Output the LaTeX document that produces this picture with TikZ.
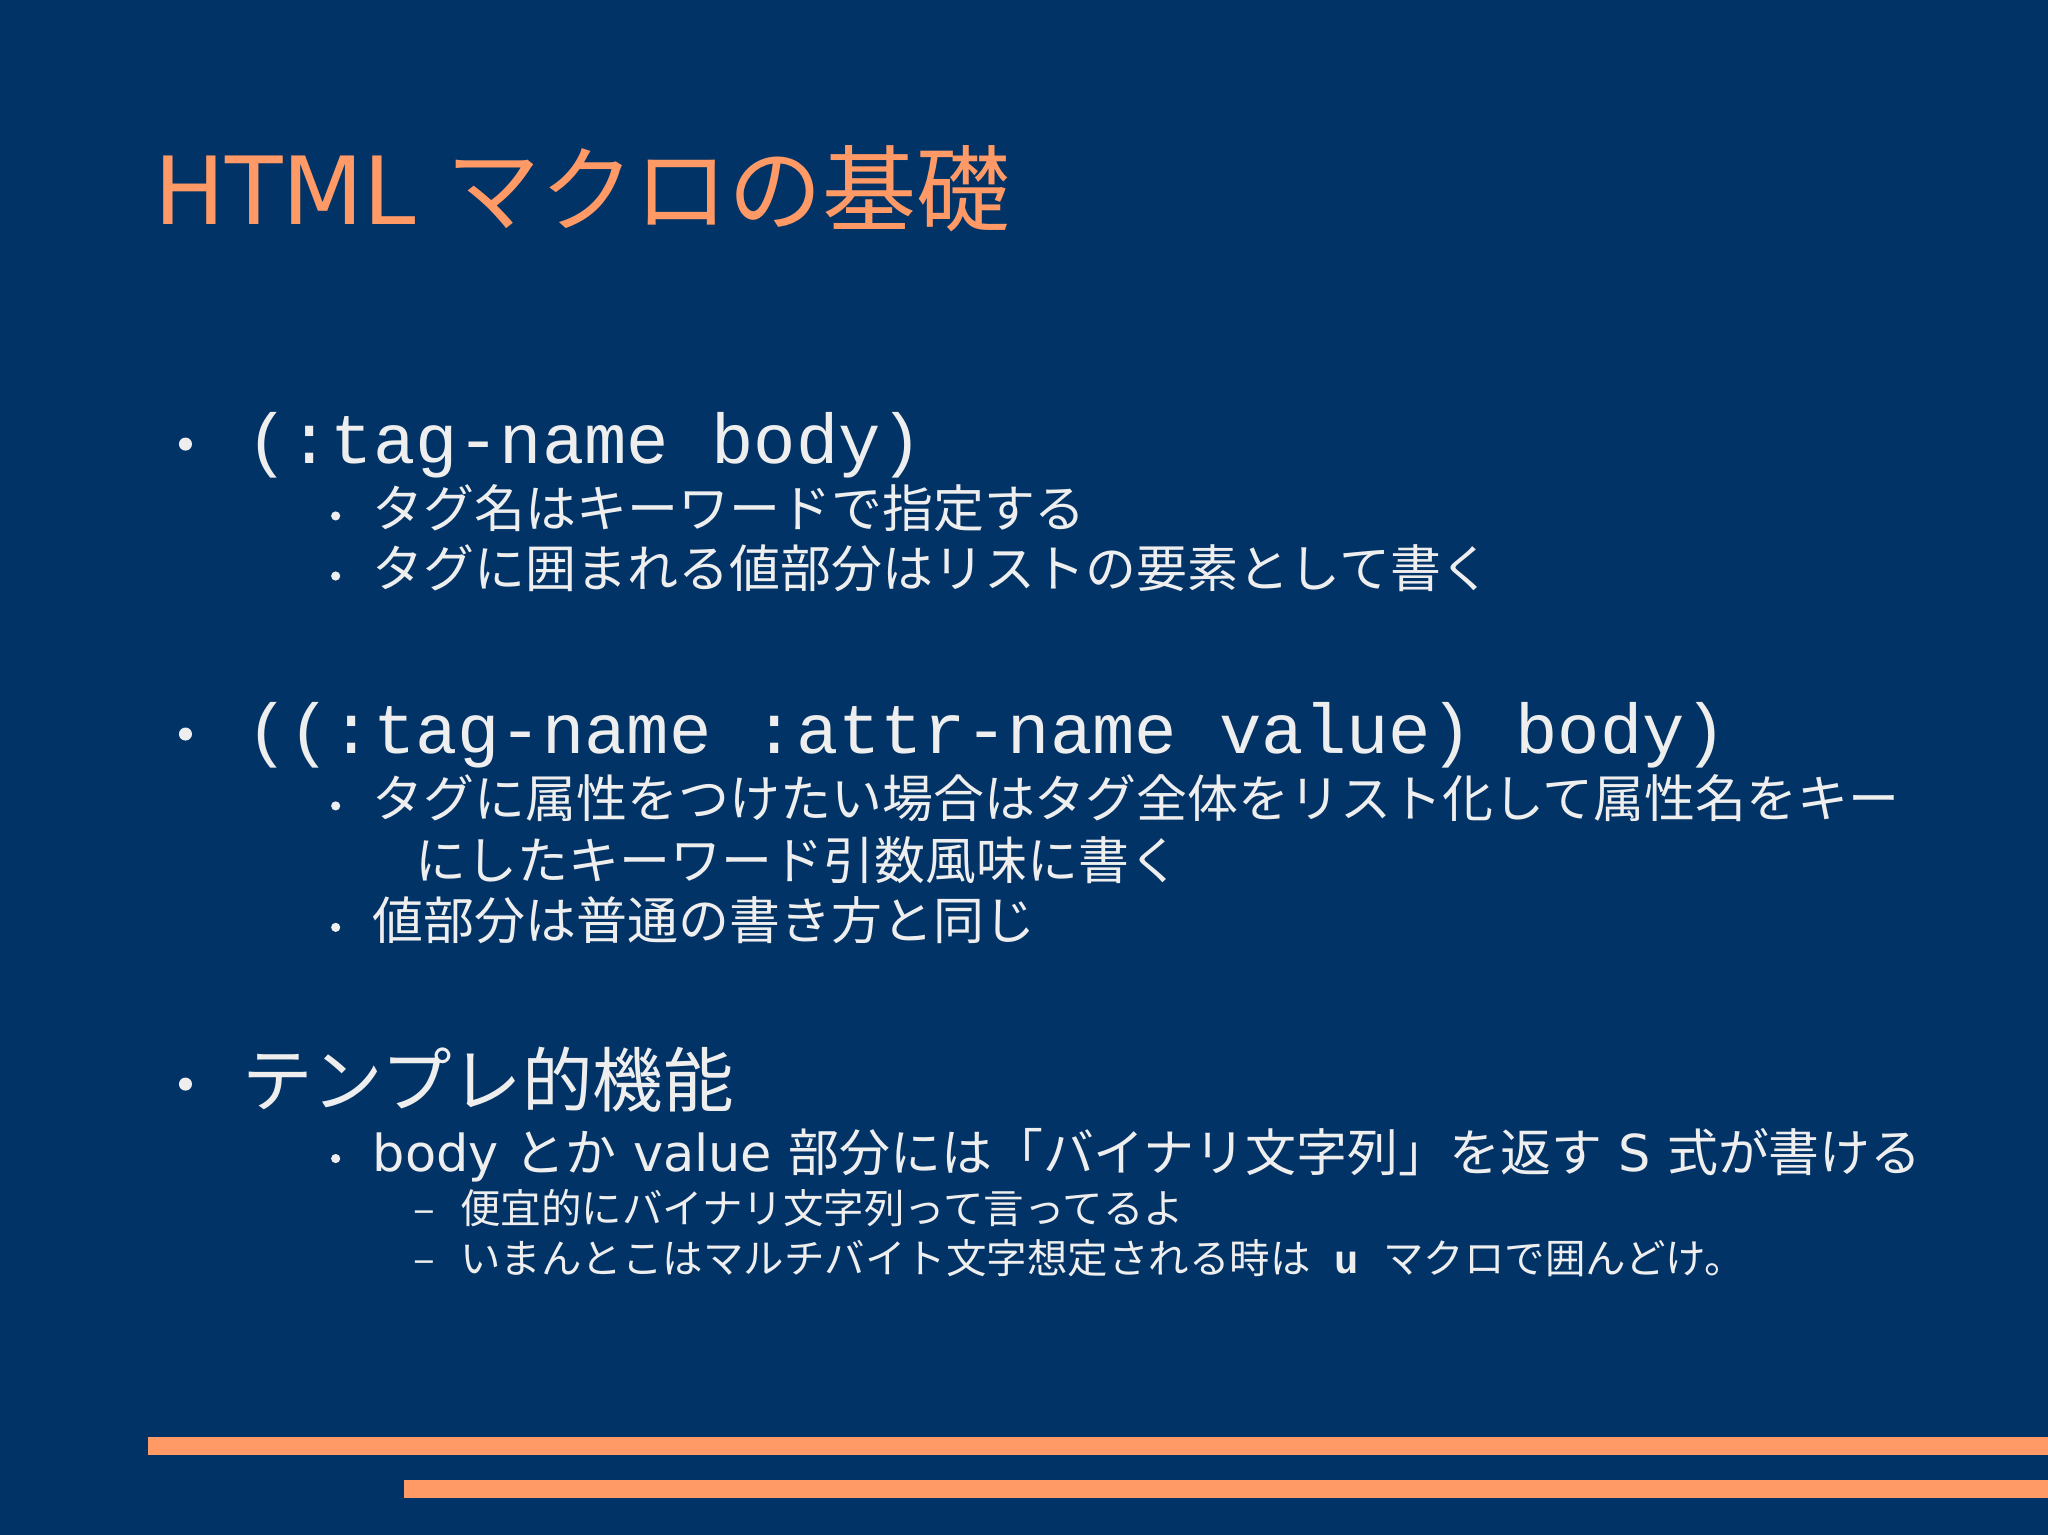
\documentclass[tikz,border=0pt]{standalone}
\usepackage{fontspec}
\setmainfont{DejaVu Sans}
\newfontfamily\jpf{Noto Sans CJK JP}
\newfontfamily\monof{Liberation Mono}
\definecolor{bg}{RGB}{1,51,102}
\definecolor{org}{RGB}{255,153,102}
\definecolor{fg}{RGB}{238,238,238}
\begin{document}
\begin{tikzpicture}[x=0.5pt,y=-0.5pt,
  t/.style={anchor=base west,inner sep=0pt,text=fg},
  bul/.style={fill=fg,circle,inner sep=0pt}]
\fill[bg] (0,0) rectangle (1568,1175);
\useasboundingbox (0,0) rectangle (1568,1175);
\fill[org] (113,1100) rectangle (1568,1114);
\fill[org] (309,1133) rectangle (1568,1147);
\node[t,text=org,font=\fontsize{36}{40}\selectfont] (title) at (118,172) {HTML {\jpf マクロの基礎}};
% bullet 1
\node[bul,minimum size=5pt] (b1) at (142,340) {};
\node[t,font=\monof\fontsize{27}{30}\selectfont] (l1) at (188,355) {(:tag-name body)};
\node[bul,minimum size=3.5pt] (b11) at (257,395) {};
\node[t,font=\jpf\fontsize{19.5}{22}\selectfont] (l11) at (285,404) {タグ名はキーワードで指定する};
\node[bul,minimum size=3.5pt] (b12) at (257,441) {};
\node[t,font=\jpf\fontsize{19.5}{22}\selectfont] (l12) at (285,450) {タグに囲まれる値部分はリストの要素として書く};
% bullet 2
\node[bul,minimum size=5pt] (b2) at (142,562) {};
\node[t,font=\monof\fontsize{27}{30}\selectfont] (l2) at (188,577) {((:tag-name :attr-name value) body)};
\node[bul,minimum size=3.5pt] (b21) at (257,617) {};
\node[t,font=\jpf\fontsize{19.5}{22}\selectfont] (l21) at (285,626) {タグに属性をつけたい場合はタグ全体をリスト化して属性名をキー};
\node[t,font=\jpf\fontsize{19.5}{22}\selectfont] (l21b) at (318,673) {にしたキーワード引数風味に書く};
\node[bul,minimum size=3.5pt] (b22) at (257,710) {};
\node[t,font=\jpf\fontsize{19.5}{22}\selectfont] (l22) at (285,719) {値部分は普通の書き方と同じ};
% bullet 3
\node[bul,minimum size=5pt] (b3) at (142,830) {};
\node[t,font=\jpf\fontsize{27}{30}\selectfont] (l3) at (185,847) {テンプレ的機能};
\node[bul,minimum size=3.5pt] (b31) at (257,887) {};
\node[t,font=\fontsize{19.5}{22}\selectfont] (l31) at (285,897) {body {\jpf とか} value {\jpf 部分には「バイナリ文字列」を返す} S {\jpf 式が書ける}};
\node[t,font=\jpf\fontsize{15.5}{18}\selectfont] (d1) at (316,937) {–};
\node[t,font=\jpf\fontsize{15.5}{18}\selectfont] (l32) at (352,937) {便宜的にバイナリ文字列って言ってるよ};
\node[t,font=\jpf\fontsize{15.5}{18}\selectfont] (d2) at (316,975) {–};
\node[t,font=\jpf\fontsize{15.5}{18}\selectfont] (l33) at (352,975) {いまんとこはマルチバイト文字想定される時は{\monof\bfseries\ u\ }マクロで囲んどけ。};
\end{tikzpicture}
\end{document}
